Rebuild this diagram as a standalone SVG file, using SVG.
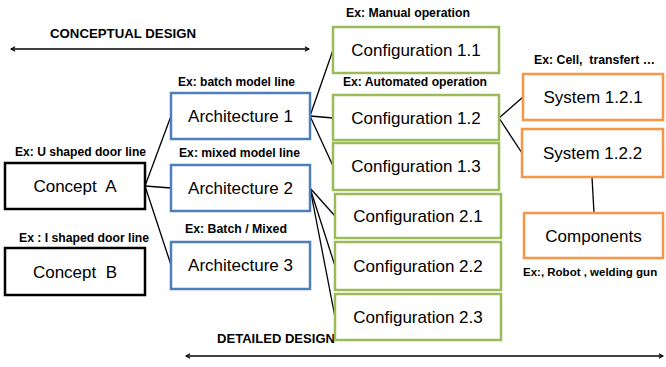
<svg xmlns="http://www.w3.org/2000/svg" width="666" height="367" viewBox="0 0 666 367">
<style>
.box{fill:#fff;stroke-width:2.5}
.k{stroke:#000}
.b{stroke:#4F7FBB}
.g{stroke:#9BBB59}
.o{stroke:#F79646}
.t{font-family:"Liberation Sans",Arial,sans-serif;font-size:17px;fill:#000;text-anchor:middle;white-space:pre}
.ex{font-family:"Liberation Sans",Arial,sans-serif;font-size:12.5px;font-weight:bold;fill:#000;white-space:pre}
.c line{stroke:#000;stroke-width:1.3}
.arr{stroke:#000;stroke-width:2.5}
</style>
<defs>
<marker id="ah" viewBox="0 0 10 10" refX="8" refY="5" markerWidth="4.5" markerHeight="4.5" orient="auto-start-reverse" markerUnits="strokeWidth">
<polyline points="1,1 8,5 1,9" fill="none" stroke="#000" stroke-width="2"/>
</marker>
</defs>
<rect width="666" height="367" fill="#fff"/>

<g id="connectors" class="c">
<line x1="145" y1="186" x2="171" y2="116"/>
<line x1="145" y1="186" x2="171" y2="188"/>
<line x1="145" y1="186" x2="171" y2="265"/>
<line x1="310" y1="116" x2="333" y2="50"/>
<line x1="310" y1="116" x2="333" y2="118"/>
<line x1="310" y1="116" x2="333" y2="166"/>
<line x1="310" y1="188" x2="335" y2="216"/>
<line x1="310" y1="188" x2="335" y2="266"/>
<line x1="310" y1="188" x2="335" y2="317"/>
<line x1="499" y1="118" x2="523" y2="97"/>
<line x1="499" y1="118" x2="522" y2="153"/>
<line x1="592" y1="177" x2="594" y2="213"/>
<line class="arr" x1="11" y1="49" x2="309" y2="49" marker-start="url(#ah)" marker-end="url(#ah)"/>
<line class="arr" x1="186" y1="356" x2="663" y2="356" marker-start="url(#ah)" marker-end="url(#ah)"/>
</g>

<text class="ex" x="50" y="38" textLength="146" lengthAdjust="spacingAndGlyphs">CONCEPTUAL DESIGN</text>
<text class="ex" x="217" y="343" textLength="118" lengthAdjust="spacingAndGlyphs">DETAILED DESIGN</text>

<g id="conceptA"><rect class="box k" x="5" y="163" width="140" height="46"/><text class="t" x="75" y="192">Concept  A</text>
<text class="ex" x="15" y="156" textLength="131" lengthAdjust="spacingAndGlyphs">Ex: U shaped door line</text></g>
<g id="conceptB"><rect class="box k" x="5" y="248" width="140" height="47"/><text class="t" x="75" y="278">Concept  B</text>
<text class="ex" x="19" y="242" textLength="130" lengthAdjust="spacingAndGlyphs">Ex : I shaped door line</text></g>

<g id="arch1"><rect class="box b" x="171" y="93" width="139" height="46"/><text class="t" x="240.5" y="122">Architecture 1</text>
<text class="ex" x="178" y="86" textLength="117" lengthAdjust="spacingAndGlyphs">Ex: batch model line</text></g>
<g id="arch2"><rect class="box b" x="171" y="165" width="139" height="46"/><text class="t" x="240.5" y="194">Architecture 2</text>
<text class="ex" x="179" y="157" textLength="121" lengthAdjust="spacingAndGlyphs">Ex: mixed model line</text></g>
<g id="arch3"><rect class="box b" x="171" y="242" width="139" height="47"/><text class="t" x="240.5" y="271">Architecture 3</text>
<text class="ex" x="185" y="233" textLength="102" lengthAdjust="spacingAndGlyphs">Ex: Batch / Mixed</text></g>

<g id="config11"><rect class="box g" x="333" y="27" width="166" height="46"/><text class="t" x="416" y="56">Configuration 1.1</text>
<text class="ex" x="346" y="17" textLength="124" lengthAdjust="spacingAndGlyphs">Ex: Manual operation</text></g>
<g id="config12"><rect class="box g" x="333" y="95" width="166" height="45"/><text class="t" x="416" y="124">Configuration 1.2</text>
<text class="ex" x="343" y="86" textLength="144" lengthAdjust="spacingAndGlyphs">Ex: Automated operation</text></g>
<g id="config13"><rect class="box g" x="333" y="143" width="166" height="47"/><text class="t" x="416" y="172">Configuration 1.3</text></g>
<g id="config21"><rect class="box g" x="335" y="194" width="166" height="44"/><text class="t" x="418" y="222">Configuration 2.1</text></g>
<g id="config22"><rect class="box g" x="335" y="242" width="166" height="48"/><text class="t" x="418" y="272">Configuration 2.2</text></g>
<g id="config23"><rect class="box g" x="335" y="294" width="166" height="46"/><text class="t" x="418" y="323">Configuration 2.3</text></g>

<g id="sys121"><rect class="box o" x="523" y="74" width="140" height="46"/><text class="t" x="593" y="103">System 1.2.1</text>
<text class="ex" x="534" y="64" textLength="121" lengthAdjust="spacingAndGlyphs">Ex: Cell,  transfert …</text></g>
<g id="sys122"><rect class="box o" x="522" y="129" width="141" height="48"/><text class="t" x="592.5" y="159">System 1.2.2</text></g>
<g id="components"><rect class="box o" x="524" y="213" width="139" height="45"/><text class="t" x="593.5" y="242">Components</text>
<text class="ex" x="523" y="276" style="font-size:11.5px">Ex:, Robot , welding gun</text></g>
</svg>
